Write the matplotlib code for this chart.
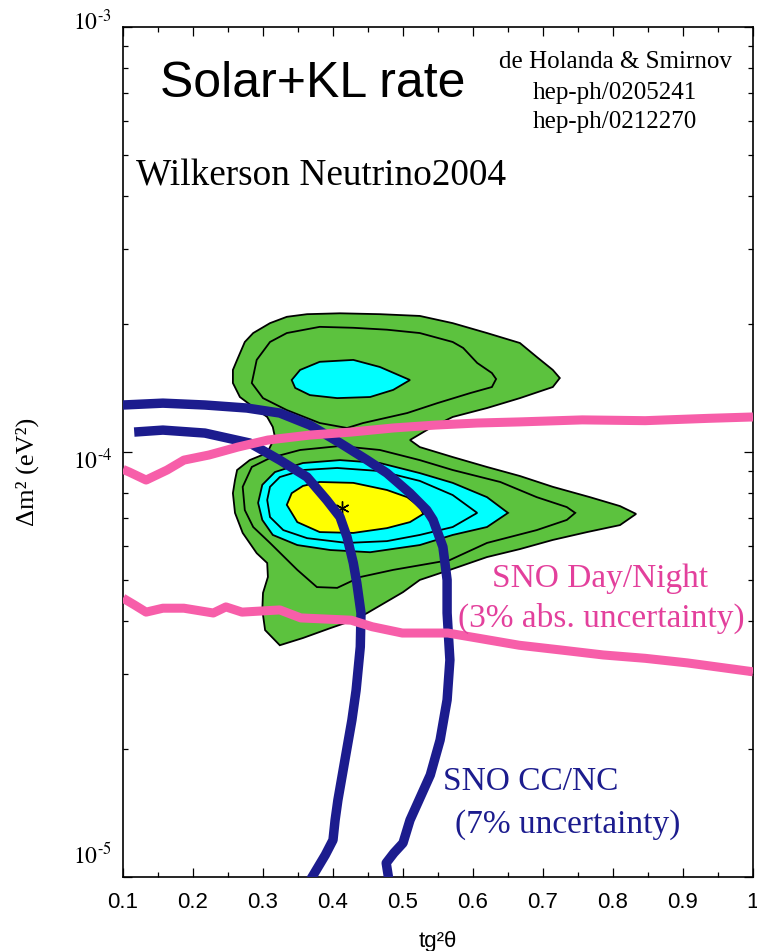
import matplotlib
matplotlib.use("Agg")
import matplotlib.pyplot as plt
import matplotlib.transforms as mtransforms
from matplotlib.ticker import MultipleLocator, FixedLocator, NullFormatter, LogLocator

# x values are tg^2(theta), y values are dm^2 in units of 1e-5 eV^2
DM_UNIT = 1e-5

# outermost allowed region (green), upper and lower islands joined at the neck
OUTER_X = [.317, .314, .306, .286, .267, .257, .257, .263, .274, .286, .310, .334, .363, .410,
           .467, .524, .571, .620, .667, .691, .714, .724, .714, .667, .620, .571, .539, .510,
           .524, .571, .620, .667, .714, .767, .810, .833, .810, .763, .714, .667, .620, .567,
           .524, .500, .449, .429, .396, .357, .324, .303, .299, .300, .307, .306, .291, .271,
           .260, .257, .260, .263, .281, .306]
OUTER_Y = [10.85, 11.45, 12.09, 12.76, 13.47, 14.53, 15.6, 16.47, 18.15, 19.05, 20.1, 20.8, 21.1,
           21.2, 21.1, 20.9, 20.1, 19.05, 18.05, 16.74, 15.6, 14.93, 14.22, 13.39, 12.69, 12.09,
           11.39, 10.67, 10.27, 9.73, 9.22, 8.78, 8.28, 7.83, 7.46, 7.15, 6.73, 6.48, 6.21, 5.91,
           5.66, 5.28, 5.0, 4.68, 4.18, 4.02, 3.85, 3.65, 3.51, 3.81, 4.25, 4.66, 5.08, 5.48,
           5.78, 6.45, 7.19, 8.0, 8.59, 9.07, 9.57, 9.95]

# second contour, upper island
L2_UP_X = [.284, .291, .310, .334, .381, .429, .477, .524, .571, .586, .606, .627, .633, .627,
           .596, .549, .506, .443, .420, .381, .334, .300]
L2_UP_Y = [14.53, 16.47, 18.15, 19.05, 19.7, 19.6, 19.4, 19.05, 18.15, 17.57, 16.2, 15.34, 14.85,
           14.22, 13.76, 13.03, 12.35, 11.7, 11.39, 11.7, 12.55, 13.39]

# second contour, lower island
L2_LO_X = [.271, .274, .286, .310, .349, .377, .406, .439, .486, .567, .620, .691, .734, .746,
           .734, .691, .639, .571, .524, .467, .410, .353, .310, .284]
L2_LO_Y = [8.28, 7.3, 6.66, 6.11, 5.28, 4.81, 4.79, 5.08, 5.28, 5.57, 6.11, 6.55, 6.92, 7.19,
           7.42, 7.83, 8.5, 9.07, 9.57, 10.11, 10.33, 10.11, 9.68, 9.22]

# third contour (cyan), upper island
L3_UP_X = [.341, .353, .381, .429, .467, .510, .486, .453, .406, .367, .346]
L3_UP_Y = [14.77, 15.6, 16.3, 16.47, 15.85, 14.77, 14.0, 13.47, 13.39, 13.61, 14.15]

# third contour (cyan), lower island
L3_LO_X = [.293, .299, .314, .349, .396, .453, .524, .571, .620, .650, .620, .571, .524, .467,
           .410, .357, .317, .299]
L3_LO_Y = [7.59, 6.92, 6.38, 6.04, 5.88, 5.81, 6.04, 6.38, 6.66, 7.19, 7.83, 8.46, 8.92, 9.42,
           9.57, 9.42, 8.97, 8.37]

# fourth contour (inside cyan)
L4_X = [.306, .310, .329, .363, .420, .477, .524, .571, .606, .571, .524, .467, .406, .357, .324, .310]
L4_Y = [7.71, 7.03, 6.55, 6.27, 6.11, 6.17, 6.38, 6.66, 7.19, 7.92, 8.55, 9.02, 9.17, 9.07, 8.73, 8.28]

# innermost contour (yellow)
L5_X = [.334, .341, .357, .381, .429, .477, .506, .524, .529, .510, .477, .429, .381, .349]
L5_Y = [7.51, 8.0, 8.32, 8.5, 8.46, 8.14, 7.83, 7.42, 7.15, 6.84, 6.62, 6.45, 6.48, 6.84]

BEST_X = 0.413
BEST_Y = 7.38

# SNO CC/NC band edges
CC_OUT_X = [.100, .157, .217, .277, .324, .367, .410, .449, .477, .510, .534, .543, .557, .563,
            .563, .567, .563, .553, .539, .510, .500, .487, .476, .480]
CC_OUT_Y = [12.9, 13.03, 12.9, 12.69, 12.35, 11.57, 10.5, 9.57, 8.92, 8.0, 7.3, 6.92, 5.98, 5.0,
            4.18, 3.24, 2.61, 2.10, 1.738, 1.361, 1.202, 1.139, 1.079, 0.98]
CC_IN_X = [.116, .157, .217, .281, .324, .363, .391, .410, .420, .429, .434, .440, .439, .433,
           .427, .417, .407, .403, .400, .389, .367]
CC_IN_Y = [11.14, 11.26, 11.08, 10.5, 9.57, 8.73, 7.71, 7.03, 6.31, 5.48, 4.92, 4.18, 3.48, 2.75,
           2.34, 1.885, 1.517, 1.361, 1.222, 1.127, 0.98]

# SNO Day/Night band edges
DN_UP_X = [.100, .109, .133, .163, .187, .223, .264, .307, .367, .426, .486, .546, .606, .666,
           .756, .846, .936, 1.0]
DN_UP_Y = [9.1, 8.97, 8.59, 9.07, 9.57, 9.84, 10.27, 10.67, 10.96, 11.14, 11.39, 11.57, 11.7,
           11.77, 11.9, 11.85, 12.0, 12.09]
DN_LO_X = [.100, .116, .133, .157, .187, .229, .247, .270, .324, .354, .426, .456, .499, .564,
           .606, .666, .726, .786, .846, .906, 1.0]
DN_LO_Y = [4.53, 4.37, 4.2, 4.29, 4.29, 4.18, 4.32, 4.2, 4.25, 4.07, 4.02, 3.88, 3.75, 3.75,
           3.65, 3.51, 3.42, 3.33, 3.27, 3.19, 3.04]

X_TICKS = [0.1, 0.2, 0.3, 0.4, 0.5, 0.6, 0.7, 0.8, 0.9, 1.0]
X_TICK_LABELS = ["0.1", "0.2", "0.3", "0.4", "0.5", "0.6", "0.7", "0.8", "0.9", "1"]
Y_TICKS = [1e-5, 1e-4, 1e-3]
Y_TICK_LABELS = [r"$10^{\text{-}5}$", r"$10^{\text{-}4}$", r"$10^{\text{-}3}$"]

GREEN = "#5cc23e"
CYAN = "#00ffff"
YELLOW = "#ffff00"
NAVY = "#1c1c8e"
PINK = "#f75ea9"
PINK_TEXT = "#e3409c"

plt.rcParams["mathtext.fontset"] = "stix"
SERIF = "Liberation Serif"
SANS = "Liberation Sans"

W, H = 757, 951
fig = plt.figure(figsize=(W / 100, H / 100), dpi=100)
ax = fig.add_axes([123 / W, 1 - 877 / H, 630 / W, 850 / H])


def scaled(vals):
    return [v * DM_UNIT for v in vals]


# contours
ax.fill(OUTER_X, scaled(OUTER_Y), facecolor=GREEN, edgecolor="black", lw=1.3, zorder=1)
ax.fill(L2_UP_X, scaled(L2_UP_Y), facecolor=GREEN, edgecolor="black", lw=1.3, zorder=2)
ax.fill(L2_LO_X, scaled(L2_LO_Y), facecolor=GREEN, edgecolor="black", lw=1.3, zorder=2)
ax.fill(L3_UP_X, scaled(L3_UP_Y), facecolor=CYAN, edgecolor="black", lw=1.3, zorder=3)
ax.fill(L3_LO_X, scaled(L3_LO_Y), facecolor=CYAN, edgecolor="black", lw=1.3, zorder=3)
ax.fill(L4_X, scaled(L4_Y), facecolor=CYAN, edgecolor="black", lw=1.3, zorder=4)
ax.fill(L5_X, scaled(L5_Y), facecolor=YELLOW, edgecolor="black", lw=1.3, zorder=5)
ax.plot([BEST_X], [BEST_Y * DM_UNIT], marker=(6, 2, 0), ms=10, mew=1.0, color="black", zorder=6)

# SNO bands
ax.plot(CC_OUT_X, scaled(CC_OUT_Y), color=NAVY, lw=6.8, solid_capstyle="butt", zorder=7)
ax.plot(CC_IN_X, scaled(CC_IN_Y), color=NAVY, lw=6.8, solid_capstyle="butt", zorder=7)
ax.plot(DN_UP_X, scaled(DN_UP_Y), color=PINK, lw=6.5, solid_capstyle="butt", zorder=8)
ax.plot(DN_LO_X, scaled(DN_LO_Y), color=PINK, lw=6.5, solid_capstyle="butt", zorder=8)

ax.set_xlim(0.1, 1.0)
ax.set_yscale("log")
ax.set_ylim(1e-5, 1e-3)

# axis styling
for s in ax.spines.values():
    s.set_linewidth(1.2)
ax.xaxis.set_major_locator(FixedLocator(X_TICKS))
ax.xaxis.set_minor_locator(MultipleLocator(0.05))
ax.set_xticklabels(X_TICK_LABELS, family=SANS, fontsize=16)
ax.yaxis.set_major_locator(FixedLocator(Y_TICKS))
ax.yaxis.set_minor_locator(LogLocator(base=10, subs=range(2, 10)))
ax.yaxis.set_minor_formatter(NullFormatter())
ax.set_yticklabels([])
ax.tick_params(which="both", direction="in", top=True, right=True, width=0.9)
ax.tick_params(which="major", length=6.5)
ax.tick_params(which="minor", length=3.8)
ax.tick_params(axis="x", which="major", pad=11)

# y tick labels, nudged like the original
offsets_px = [21, -9, 4.5]
for val, lab, dy in zip(Y_TICKS, Y_TICK_LABELS, offsets_px):
    tr = ax.get_yaxis_transform() + mtransforms.ScaledTranslation(0, dy / 100, fig.dpi_scale_trans)
    ax.text(-0.0175, val, lab, transform=tr, ha="right", va="center", fontsize=17)

ax.set_xlabel("tg²θ", family=SANS, fontsize=16, va="center")
ax.xaxis.set_label_coords(0.5, (877 - 941) / 850)
ax.set_ylabel("Δm² (eV²)", family=SERIF, fontsize=19, va="center")
ax.yaxis.set_label_coords((27 - 123) / 630, (877 - 472) / 850)


def fx(px):
    return px / W


def fy(py):
    return 1 - py / H


fig.text(fx(160), fy(97), "Solar+KL rate", family=SANS, fontsize=36, va="baseline")
fig.text(fx(136), fy(185), "Wilkerson Neutrino2004", family=SERIF, fontsize=26.8, va="baseline")
fig.text(fx(615), fy(68), "de Holanda & Smirnov", family=SERIF, fontsize=18, ha="center", va="baseline")
fig.text(fx(615), fy(99), "hep-ph/0205241", family=SERIF, fontsize=18, ha="center", va="baseline")
fig.text(fx(615), fy(128), "hep-ph/0212270", family=SERIF, fontsize=18, ha="center", va="baseline")
fig.text(fx(600), fy(587), "SNO Day/Night", family=SERIF, fontsize=24, ha="center", va="baseline",
         color=PINK_TEXT)
fig.text(fx(601), fy(627), "(3% abs. uncertainty)", family=SERIF, fontsize=24, ha="center",
         va="baseline", color=PINK_TEXT)
fig.text(fx(443), fy(790), "SNO CC/NC", family=SERIF, fontsize=24, va="baseline", color=NAVY)
fig.text(fx(455), fy(833), "(7% uncertainty)", family=SERIF, fontsize=24, va="baseline", color=NAVY)

fig.savefig("out.png", dpi=100)
